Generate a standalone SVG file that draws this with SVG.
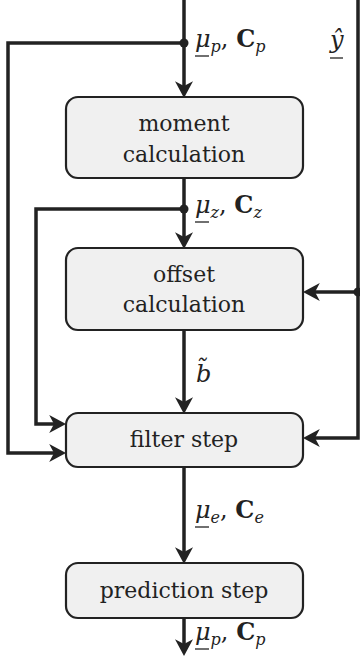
<svg xmlns="http://www.w3.org/2000/svg" width="360" height="661" viewBox="0 0 360 661">
<style>
.box{fill:#f0f0f0;stroke:#222;stroke-width:2.2}
.lbl{font-family:"DejaVu Serif",serif;font-size:22px;fill:#222;text-anchor:middle}
.m{font-family:"DejaVu Serif",serif;font-size:24px;fill:#222}
.it{font-style:italic}
.b{font-weight:bold}
.sub{font-size:16px;font-style:italic}
.c{fill:none;stroke:#222;stroke-width:3.5}
.ul{stroke:#222;stroke-width:1.3}
</style>
<defs>
<marker id="ah" markerUnits="userSpaceOnUse" markerWidth="30" markerHeight="30" viewBox="-15 -10 25 20" refX="0" refY="0" orient="auto">
<path d="M5,0 L-9,-7.5 L-5,0 L-9,7.5 Z" fill="#222"/>
</marker>
</defs>
<g id="connectors">
<path class="c" d="M184,0 V92" marker-end="url(#ah)"/>
<path class="c" d="M184,43 H8 V453 H60" marker-end="url(#ah)"/>
<path class="c" d="M184,178 V243" marker-end="url(#ah)"/>
<path class="c" d="M184,209 H36 V424 H60" marker-end="url(#ah)"/>
<path class="c" d="M358,0 V438 H309" marker-end="url(#ah)"/>
<path class="c" d="M358,292 H309" marker-end="url(#ah)"/>
<path class="c" d="M184,330 V408" marker-end="url(#ah)"/>
<path class="c" d="M184,467 V558" marker-end="url(#ah)"/>
<path class="c" d="M184,618 V650" marker-end="url(#ah)"/>
<circle cx="184" cy="43" r="4.5" fill="#222"/>
<circle cx="184" cy="209" r="4.5" fill="#222"/>
<circle cx="358" cy="292" r="4.5" fill="#222"/>
</g>
<g id="labels">
<text class="m" x="195" y="47"><tspan class="it">μ</tspan><tspan class="sub" dy="5">p</tspan><tspan dy="-5">, </tspan><tspan class="b">C</tspan><tspan class="sub" dy="5">p</tspan></text>
<line class="ul" x1="195" y1="56" x2="209" y2="56"/>
<text class="m it" x="330" y="48">ŷ</text>
<line class="ul" x1="330" y1="58" x2="343" y2="58"/>
<text class="m" x="195" y="213"><tspan class="it">μ</tspan><tspan class="sub" dy="5">z</tspan><tspan dy="-5">, </tspan><tspan class="b">C</tspan><tspan class="sub" dy="5">z</tspan></text>
<line class="ul" x1="195" y1="222" x2="209" y2="222"/>
<text class="m it" x="196" y="382">b̃</text>
<text class="m" x="195" y="518"><tspan class="it">μ</tspan><tspan class="sub" dy="5">e</tspan><tspan dy="-5">, </tspan><tspan class="b">C</tspan><tspan class="sub" dy="5">e</tspan></text>
<line class="ul" x1="195" y1="527" x2="209" y2="527"/>
<text class="m" x="195" y="640"><tspan class="it">μ</tspan><tspan class="sub" dy="5">p</tspan><tspan dy="-5">, </tspan><tspan class="b">C</tspan><tspan class="sub" dy="5">p</tspan></text>
<line class="ul" x1="195" y1="649" x2="209" y2="649"/>
</g>
<g id="moment">
<rect class="box" x="66" y="97" width="237" height="81" rx="12"/>
<text class="lbl" x="184" y="131">moment</text>
<text class="lbl" x="184" y="162">calculation</text>
</g>
<g id="offset">
<rect class="box" x="66" y="248" width="237" height="82" rx="12"/>
<text class="lbl" x="184" y="282">offset</text>
<text class="lbl" x="184" y="312">calculation</text>
</g>
<g id="filter">
<rect class="box" x="66" y="413" width="237" height="54" rx="12"/>
<text class="lbl" x="184" y="447">filter step</text>
</g>
<g id="prediction">
<rect class="box" x="66" y="563" width="237" height="55" rx="12"/>
<text class="lbl" x="184" y="598">prediction step</text>
</g>
</svg>
